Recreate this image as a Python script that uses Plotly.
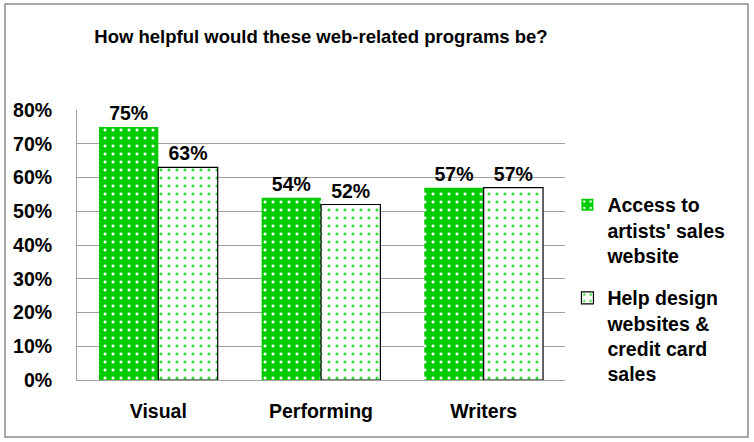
import plotly.graph_objects as go

categories = ["Visual", "Performing", "Writers"]
series_names = ["Access to<br>artists' sales<br>website",
                "Help design<br>websites &<br>credit card<br>sales"]
access_values = [0.75, 0.54, 0.57]
design_values = [0.63, 0.52, 0.57]
y_ticks = [0, 0.1, 0.2, 0.3, 0.4, 0.5, 0.6, 0.7, 0.8]
title_text = "How helpful would these web-related programs be?"

FONT = "Liberation Sans, Arial, sans-serif"
GREEN = "#00cc00"
FS = 19.5

fig = go.Figure()
fig.add_trace(go.Bar(
    x=categories, y=access_values, name=series_names[0], legendgroup="g1",
    marker=dict(color=GREEN, line=dict(color=GREEN, width=0),
                pattern=dict(shape=".", fillmode="replace", bgcolor=GREEN,
                             fgcolor="white", size=8, solidity=0.12)),
    texttemplate="%{y:.0%}", textposition="outside", cliponaxis=False,
    textfont=dict(family=FONT, size=FS, color="black", weight="bold"),
))
fig.add_trace(go.Bar(
    x=categories, y=design_values, name=series_names[1], legendgroup="g2",
    marker=dict(color="white", line=dict(color="black", width=1.2),
                pattern=dict(shape=".", fillmode="replace", bgcolor="white",
                             fgcolor="#33dd33", size=8, solidity=0.12)),
    texttemplate="%{y:.0%}", textposition="outside", cliponaxis=False,
    textfont=dict(family=FONT, size=FS, color="black", weight="bold"),
))

fig.update_layout(
    width=754, height=442,
    margin=dict(l=77, r=189, t=110, b=62),
    paper_bgcolor="white", plot_bgcolor="white",
    barmode="group", bargap=0.27, bargroupgap=0,
    font=dict(family=FONT, size=FS, color="black", weight="bold"),
    title=dict(text=title_text, x=0.5, xref="paper",
               y=0.918, yref="container", xanchor="center", yanchor="middle",
               font=dict(family=FONT, size=18.5, color="black", weight="bold")),
    showlegend=True,
    legend=dict(x=1.005, y=0.72, xanchor="left", yanchor="top",
                valign="top", tracegroupgap=14, itemclick=False,
                font=dict(family=FONT, size=FS, color="black", weight="bold"),
                bgcolor="rgba(0,0,0,0)"),
    xaxis=dict(showgrid=False, showline=True, linecolor="#a0a0a0", linewidth=1,
               ticks="", ticklabelstandoff=14,
               tickfont=dict(family=FONT, size=FS, weight="bold")),
    yaxis=dict(range=[0, 0.8], tickvals=y_ticks, tickformat=".0%",
               showgrid=True, gridcolor="#a0a0a0", gridwidth=1,
               showline=True, linecolor="#a0a0a0", linewidth=1,
               zeroline=False, ticks="", ticklabelstandoff=20,
               tickfont=dict(family=FONT, size=FS, weight="bold")),
    shapes=[dict(type="rect", xref="paper", yref="paper",
                 x0=(5 - 77) / 488, x1=(748 - 77) / 488,
                 y0=(380 - 437) / 270, y1=(380 - 4) / 270,
                 line=dict(color="#8c8c8c", width=1.5), layer="below")],
)

fig.write_html("out.html", config={"displayModeBar": False},
               post_script="document.body.style.margin='0';")
